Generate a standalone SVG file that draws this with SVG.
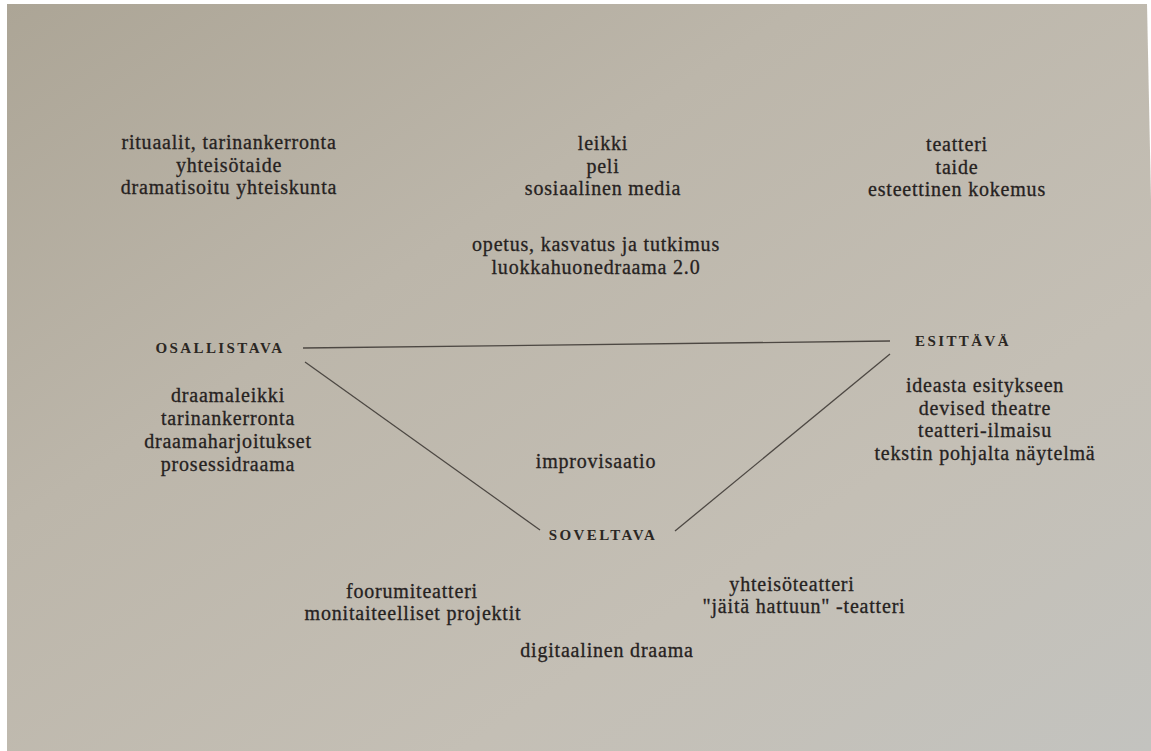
<svg xmlns="http://www.w3.org/2000/svg" width="1151" height="751" viewBox="0 0 1151 751">
<style>
.t{font-family:"Liberation Serif","DejaVu Serif",serif;font-size:20px;letter-spacing:0.8px;fill:#26221f;stroke:#26221f;stroke-width:0.3;text-anchor:middle}
.h{font-family:"Liberation Serif","DejaVu Serif",serif;font-size:15px;fill:#2b2723;text-anchor:middle;letter-spacing:2.4px;font-weight:bold}
.c{stroke:#4d4843;stroke-width:1.3;fill:none}
</style>
<defs>
<linearGradient id="bg" x1="0" y1="0" x2="1" y2="1">
<stop offset="0" stop-color="#aca596"/>
<stop offset="0.35" stop-color="#bcb6aa"/>
<stop offset="0.7" stop-color="#c4bfb5"/>
<stop offset="1" stop-color="#c3c3bf"/>
</linearGradient>
</defs>
<rect width="1151" height="751" fill="#ffffff"/>
<polygon points="7,4 1147,4 1151,200 1151,751 7,751" fill="url(#bg)"/>
<g id="connectors">
<line class="c" x1="303" y1="348" x2="890" y2="341"/>
<line class="c" x1="305" y1="362" x2="540" y2="530"/>
<line class="c" x1="890" y1="354" x2="675" y2="531"/>
</g>
<g id="top-left"><text class="t" x="229" y="149">rituaalit, tarinankerronta</text><text class="t" x="229" y="171.5">yhteisötaide</text><text class="t" x="229" y="194">dramatisoitu yhteiskunta</text></g>
<g id="top-center"><text class="t" x="603" y="150">leikki</text><text class="t" x="603" y="172.5">peli</text><text class="t" x="603" y="195">sosiaalinen media</text></g>
<g id="top-right"><text class="t" x="957" y="151">teatteri</text><text class="t" x="957" y="173.5">taide</text><text class="t" x="957" y="196">esteettinen kokemus</text></g>
<g id="opetus"><text class="t" x="596" y="251">opetus, kasvatus ja tutkimus</text><text class="t" x="596" y="274">luokkahuonedraama 2.0</text></g>
<g id="osallistava"><text class="h" x="220" y="353">OSALLISTAVA</text></g>
<g id="esittava"><text class="h" x="963" y="346">ESITTÄVÄ</text></g>
<g id="soveltava"><text class="h" x="603" y="540">SOVELTAVA</text></g>
<g id="left-list"><text class="t" x="228" y="402">draamaleikki</text><text class="t" x="228" y="425">tarinankerronta</text><text class="t" x="228" y="448">draamaharjoitukset</text><text class="t" x="228" y="471">prosessidraama</text></g>
<g id="right-list"><text class="t" x="985" y="392">ideasta esitykseen</text><text class="t" x="985" y="414.5">devised theatre</text><text class="t" x="985" y="437">teatteri-ilmaisu</text><text class="t" x="985" y="460">tekstin pohjalta näytelmä</text></g>
<g id="improvisaatio"><text class="t" x="596" y="468">improvisaatio</text></g>
<g id="bottom-left"><text class="t" x="412" y="598">foorumiteatteri</text><text class="t" x="413" y="620">monitaiteelliset projektit</text></g>
<g id="bottom-right"><text class="t" x="792" y="591">yhteisöteatteri</text><text class="t" x="804" y="613">"jäitä hattuun" -teatteri</text></g>
<g id="digitaalinen"><text class="t" x="607" y="657">digitaalinen draama</text></g>
</svg>
